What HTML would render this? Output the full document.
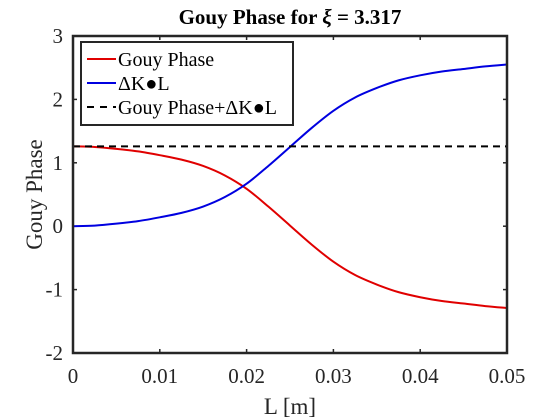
<!DOCTYPE html>
<html><head><meta charset="utf-8"><style>
html,body{margin:0;padding:0;background:#fff;}
svg{display:block;font-family:"Liberation Serif",serif;}
</style></head><body>
<svg id="chart" width="560" height="420" viewBox="0 0 560 420"></svg>
<script>
const lValues=[0,0.0025,0.005,0.0075,0.01,0.0125,0.015,0.0175,0.02,0.0225,0.025,0.0275,0.03,0.0325,0.035,0.0375,0.04,0.0425,0.045,0.0475,0.05];
const gouyValues=[1.26,1.25,1.22,1.18,1.12,1.05,0.95,0.80,0.59,0.31,0.01,-0.29,-0.56,-0.77,-0.92,-1.04,-1.12,-1.18,-1.22,-1.26,-1.29];
const dklValues=[0.00,0.01,0.04,0.08,0.14,0.21,0.31,0.46,0.67,0.95,1.25,1.55,1.82,2.03,2.18,2.30,2.38,2.44,2.48,2.52,2.55];
const sumValue=[1.26];
const xTicks=[0,0.01,0.02,0.03,0.04,0.05];
const xTickLabels=["0","0.01","0.02","0.03","0.04","0.05"];
const yTicks=[-2,-1,0,1,2,3];
const yTickLabels=["-2","-1","0","1","2","3"];

const NS="http://www.w3.org/2000/svg";
const svg=document.getElementById('chart');
const X0=73,X1=507,Y0=353,Y1=36;
const xs=v=>X0+(v-0)/(0.05-0)*(X1-X0);
const ys=v=>Y0-(v-(-2))/(3-(-2))*(Y0-Y1);
function mk(t,a,txt){const e=document.createElementNS(NS,t);for(const k in a)e.setAttribute(k,a[k]);if(txt!==undefined)e.textContent=txt;svg.appendChild(e);return e;}
function smooth(xa,ya){const p=xa.map((x,i)=>[xs(x),ys(ya[i])]);let d=`M${p[0][0]},${p[0][1]}`;
for(let i=0;i<p.length-1;i++){const p0=p[Math.max(0,i-1)],p1=p[i],p2=p[i+1],p3=p[Math.min(p.length-1,i+2)];
d+=` C${p1[0]+(p2[0]-p0[0])/6},${p1[1]+(p2[1]-p0[1])/6} ${p2[0]-(p3[0]-p1[0])/6},${p2[1]-(p3[1]-p1[1])/6} ${p2[0]},${p2[1]}`;}return d;}

xTicks.forEach((t,i)=>{
  let e=mk('line',{x1:xs(t),x2:xs(t),y1:Y0,y2:Y0-4,stroke:'#262626','stroke-width':1.5});
  
  e=mk('line',{x1:xs(t),x2:xs(t),y1:Y1,y2:Y1+4,stroke:'#262626','stroke-width':1.5});
  
  e=mk('text',{x:xs(t),y:Y0+30,'text-anchor':'middle','font-size':21,fill:'#262626'},xTickLabels[i]);
  
});
yTicks.forEach((t,i)=>{
  let e=mk('line',{x1:X0,x2:X0+4,y1:ys(t),y2:ys(t),stroke:'#262626','stroke-width':1.5});
  
  e=mk('line',{x1:X1,x2:X1-4,y1:ys(t),y2:ys(t),stroke:'#262626','stroke-width':1.5});
  
  e=mk('text',{x:X0-10,y:ys(t)+7,'text-anchor':'end','font-size':21,fill:'#262626'},yTickLabels[i]);
  
});

let s=mk('path',{d:smooth(lValues,gouyValues),fill:'none',stroke:'#e00000','stroke-width':2});

s=mk('path',{d:smooth(lValues,dklValues),fill:'none',stroke:'#0000e0','stroke-width':2});

s=mk('line',{x1:xs(lValues[0]),x2:xs(lValues[lValues.length-1]),y1:ys(sumValue[0]),y2:ys(sumValue[0]),stroke:'#000','stroke-width':2,'stroke-dasharray':'7,5'});


let b=mk('rect',{x:X0,y:Y1,width:X1-X0,height:Y0-Y1,fill:'none',stroke:'#262626','stroke-width':2.5});


let t=mk('text',{x:290,y:24,'text-anchor':'middle','font-size':21,'font-weight':'bold',fill:'#000'});
t.innerHTML='Gouy Phase for <tspan font-style="italic">ξ</tspan> = 3.317';

t=mk('text',{x:290,y:414,'text-anchor':'middle','font-size':23,fill:'#262626'},'L [m]');

t=mk('text',{x:0,y:0,'text-anchor':'middle','font-size':23,fill:'#262626',transform:`translate(42,${(Y0+Y1)/2}) rotate(-90)`},'Gouy Phase');


let g=mk('rect',{x:81,y:42,width:212,height:83,fill:'#fff',stroke:'#262626','stroke-width':2});

const leg=[['Gouy Phase','#e00000',''],['ΔK●L','#0000e0',''],['Gouy Phase+ΔK●L','#000','7,6']];
leg.forEach((l,i)=>{const y=59+i*24;
  let e=mk('line',{x1:87,x2:116,y1:y,y2:y,stroke:l[1],'stroke-width':2,'stroke-dasharray':l[2]||'none'});
  
  e=mk('text',{x:118,y:y+7,'font-size':20,fill:'#000'},l[0]);
  
});
</script>
</body></html>
